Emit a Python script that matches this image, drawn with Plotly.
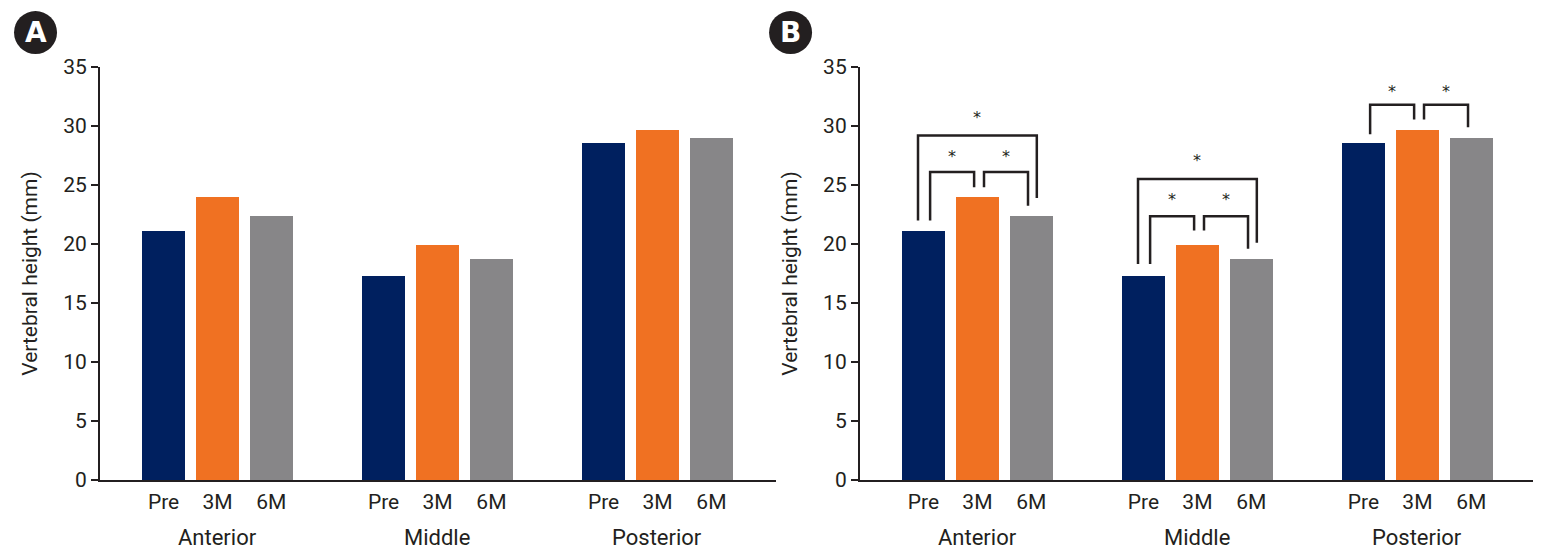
import plotly.graph_objects as go

# ---- data ----
groups = ["Anterior", "Middle", "Posterior"]
timepoints = ["Pre", "3M", "6M"]
pre_vals = [21.1, 17.3, 28.55]
m3_vals = [24.0, 19.9, 29.65]
m6_vals = [22.4, 18.7, 29.0]
colors = ["#00205f", "#f07122", "#878688"]

# significance brackets for panel B (values in mm)
outer_top = [29.2, 25.5, None]
outer_left_foot = [22.0, 18.3, None]
outer_right_foot = [23.9, 20.1, None]
outer_star = [30.7, 27.05, None]
inner_top = [26.1, 22.35, 31.8]
inner_left_foot = [22.0, 18.3, 29.3]
inner_mid_foot = [24.8, 21.15, 30.55]
inner_right_foot = [23.25, 19.6, 29.9]
inner_star = [27.4, 23.8, 32.95]

group_pos = [1, 2, 3]
offsets = [-0.245, 0.0, 0.245]
bar_width = 0.195

font_family = "Roboto, Liberation Sans, Arial, sans-serif"
ink = "#231f20"

fig = go.Figure()
series = [pre_vals, m3_vals, m6_vals]
for panel, (xa, ya) in enumerate([("x", "y"), ("x2", "y2")]):
    for j, vals in enumerate(series):
        fig.add_trace(go.Bar(
            x=[g + offsets[j] for g in group_pos], y=vals, width=bar_width,
            marker=dict(color=colors[j], line=dict(width=0)),
            name=timepoints[j], showlegend=False, xaxis=xa, yaxis=ya,
        ))

tickvals = [g + o for g in group_pos for o in offsets]
ticktext = [t for g in group_pos for t in timepoints]

axis_common_x = dict(
    range=[0.466, 3.539], showline=True, linewidth=2, linecolor=ink,
    tickmode="array", tickvals=tickvals, ticktext=ticktext, ticks="",
    showgrid=False, zeroline=False, tickfont=dict(size=21, color=ink, family=font_family),
    ticklabelstandoff=2,
)
axis_common_y = dict(
    range=[0, 35], dtick=5, showline=True, linewidth=2, linecolor=ink,
    ticks="outside", ticklen=7, tickwidth=2, tickcolor=ink,
    showgrid=False, zeroline=False, tickfont=dict(size=21, color=ink, family=font_family),
    title=dict(text="Vertebral height (mm)", font=dict(size=21, color=ink, family=font_family), standoff=20),
)

# page body has an 8px margin, so the figure is offset by 8px
fig.update_layout(
    width=1533, height=547,
    margin=dict(l=92, r=5, t=59, b=75),
    plot_bgcolor="white", paper_bgcolor="white",
    xaxis=dict(domain=[0, 0.4708], anchor="y", **axis_common_x),
    xaxis2=dict(domain=[0.5292, 1.0], anchor="y2", **axis_common_x),
    yaxis=dict(anchor="x", **axis_common_y),
    yaxis2=dict(anchor="x2", **axis_common_y),
    bargap=0,
)

annotations = []
shapes = []
for xr in ["x", "x2"]:
    for gi, g in enumerate(groups):
        annotations.append(dict(
            x=group_pos[gi], xref=xr, y=-0.14, yref="paper", yanchor="middle",
            text=g, showarrow=False, font=dict(size=22, color=ink, family=font_family),
        ))

# panel labels
for lbl, px in [("A", -0.0449), ("B", 0.4809)]:
    shapes.append(dict(
        type="circle", xref="paper", yref="paper", xsizemode="pixel", ysizemode="pixel",
        xanchor=px, yanchor=1.0835, x0=-21.5, x1=21.5, y0=-21.5, y1=21.5,
        fillcolor=ink, line=dict(width=0),
    ))
    annotations.append(dict(
        x=px, y=1.0835, xref="paper", yref="paper", text="<b>" + lbl + "</b>",
        showarrow=False, xanchor="center", yanchor="middle",
        font=dict(size=28, color="white", family="DejaVu Sans, Arial"),
    ))

def bracket(x0, x1, top, f0, f1):
    path = f"M {x0},{f0} L {x0},{top} L {x1},{top} L {x1},{f1}"
    shapes.append(dict(type="path", path=path, xref="x2", yref="y2",
                       line=dict(color=ink, width=2.5)))

def star(x, y):
    annotations.append(dict(x=x, y=y, xref="x2", yref="y2", text="*", showarrow=False,
                            yanchor="middle", font=dict(size=16, color=ink, family="DejaVu Sans")))

for gi, g in enumerate(group_pos):
    xp, xm, xs = [g + o for o in offsets]
    if outer_top[gi] is not None:
        bracket(xp - 0.025, xs + 0.025, outer_top[gi], outer_left_foot[gi], outer_right_foot[gi])
        star((xp + xs) / 2, outer_star[gi])
    bracket(xp + 0.03, xm - 0.015, inner_top[gi], inner_left_foot[gi], inner_mid_foot[gi])
    bracket(xm + 0.03, xs - 0.015, inner_top[gi], inner_mid_foot[gi], inner_right_foot[gi])
    star((xp + 0.03 + xm - 0.015) / 2, inner_star[gi])
    star((xm + 0.03 + xs - 0.015) / 2, inner_star[gi])

fig.update_layout(annotations=annotations, shapes=shapes)
fig.write_html("out.html")
